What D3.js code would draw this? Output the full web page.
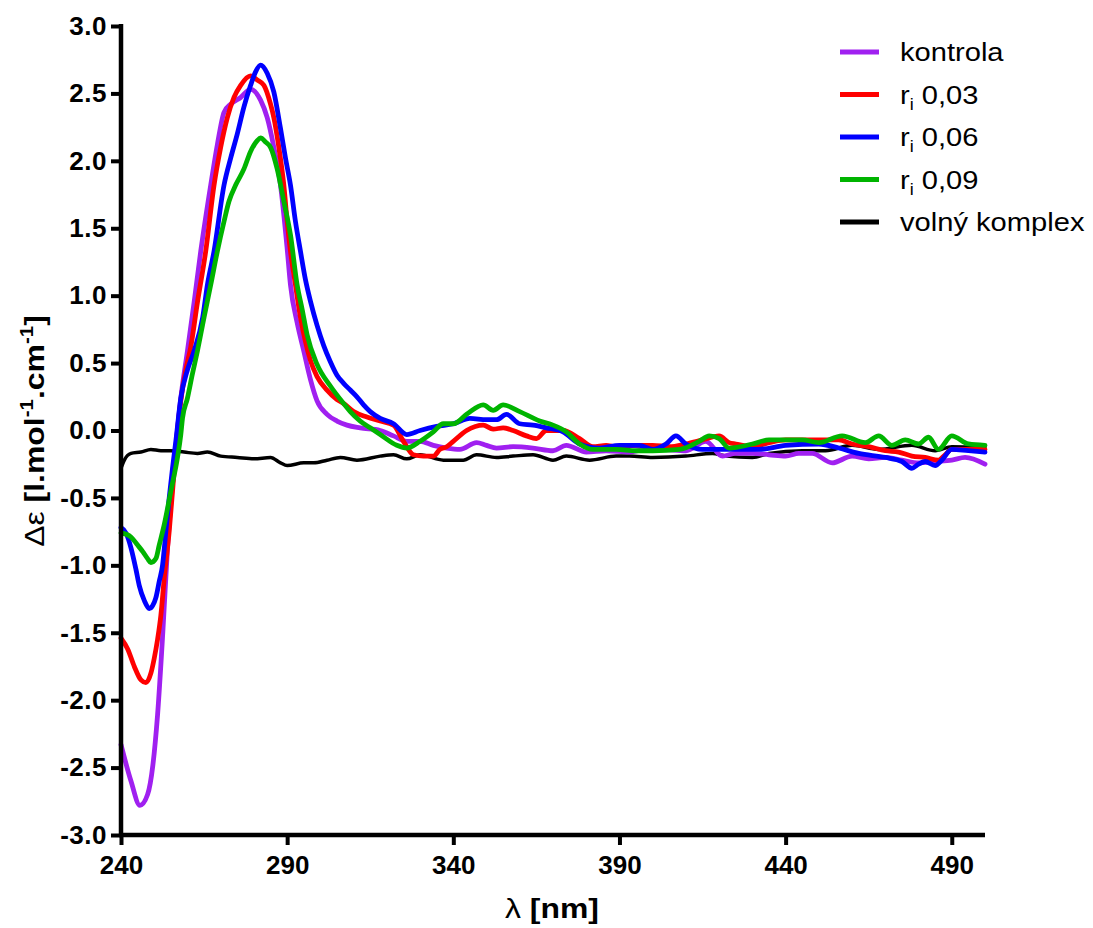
<!DOCTYPE html>
<meta charset="utf-8">
<script src="https://cdn.jsdelivr.net/npm/d3@7"></script>
<style>
body { margin: 0; background: #fff; }
text { font-family: "Liberation Sans", Arial, sans-serif; fill: #000; }
.tick text { font-size: 26px; font-weight: bold; }
path.line { fill: none; stroke-linejoin: round; stroke-linecap: round; }
</style>
<body>
<script>

// [wavelength nm, delta epsilon]
var kontrola = [[240,-2.33],[243,-2.6],[245.7,-2.78],[248,-2.7],[249.6,-2.48],[251,-2.11],[252.6,-1.49],[254,-0.87],[256,-0.26],[258,0.24],[260,0.59],[262,0.95],[264,1.33],[267,1.82],[269,2.12],[271,2.36],[273,2.42],[276,2.47],[279,2.53],[282,2.45],[284,2.32],[286,2.1],[288,1.82],[290,1.35],[291,1.08],[293,0.8],[295,0.59],[297,0.38],[299,0.22],[302,0.12],[305,0.07],[308,0.04],[312,0.02],[318,0.0],[322,-0.04],[326,-0.08],[330,-0.08],[334,-0.11],[338,-0.13],[342,-0.14],[347,-0.09],[350,-0.11],[353,-0.13],[358,-0.12],[364,-0.13],[370,-0.15],[374,-0.11],[380,-0.16],[386,-0.15],[393,-0.16],[398,-0.14],[402,-0.14],[410,-0.15],[416,-0.08],[421,-0.19],[425,-0.17],[430,-0.17],[435,-0.18],[440,-0.19],[444,-0.17],[448,-0.17],[454,-0.24],[460,-0.19],[465,-0.21],[470,-0.2],[475,-0.22],[480,-0.24],[485,-0.23],[490,-0.22],[494,-0.2],[500,-0.25]];

var ri003 = [[240,-1.54],[242,-1.62],[244,-1.75],[246,-1.85],[247.5,-1.87],[249,-1.8],[250,-1.69],[251,-1.55],[252,-1.37],[253,-1.1],[254.5,-0.75],[256,-0.3],[257,0.0],[258,0.22],[259.5,0.45],[261,0.62],[263,0.95],[265.5,1.33],[268,1.82],[270,2.1],[272,2.32],[274,2.47],[276,2.56],[279,2.63],[281,2.6],[283,2.56],[285,2.42],[286,2.32],[287.5,2.1],[289,1.82],[290,1.55],[291,1.33],[292.5,1.08],[294,0.84],[295.5,0.66],[297,0.52],[299,0.4],[302,0.3],[305,0.23],[307,0.2],[310,0.14],[314,0.1],[318,0.07],[322,0.04],[325,-0.08],[328,-0.18],[331,-0.19],[334,-0.19],[336,-0.14],[338,-0.12],[340,-0.08],[344,0.0],[349,0.04],[352,0.01],[355,0.02],[358,0.0],[362,-0.04],[365,-0.06],[368,0.0],[373,0.0],[378,-0.06],[382,-0.12],[386,-0.11],[389,-0.12],[395,-0.11],[400,-0.11],[405,-0.12],[410,-0.1],[415,-0.07],[420,-0.04],[423,-0.09],[425,-0.1],[430,-0.12],[435,-0.09],[440,-0.07],[448,-0.07],[456,-0.07],[460,-0.1],[465,-0.12],[470,-0.15],[474,-0.16],[478,-0.19],[482,-0.2],[486,-0.22],[488,-0.18],[490,-0.14],[495,-0.14],[500,-0.14]];

var ri006 = [[240,-0.72],[241.5,-0.76],[243,-0.87],[244.5,-1.03],[245.5,-1.15],[247,-1.26],[248.5,-1.32],[249.5,-1.3],[250.5,-1.24],[251.5,-1.12],[252.5,-1.0],[253.5,-0.75],[254.5,-0.5],[255.5,-0.28],[256.5,-0.08],[258,0.24],[260,0.45],[262,0.59],[264.6,0.84],[266,1.08],[268,1.33],[271,1.82],[273,2.02],[275,2.2],[277,2.4],[279,2.56],[280.5,2.66],[282,2.71],[284,2.65],[286,2.51],[288,2.24],[289.5,2.02],[291,1.82],[292.5,1.55],[294,1.33],[295.5,1.12],[297,0.96],[299,0.78],[301,0.63],[303,0.51],[305,0.41],[307,0.35],[309,0.3],[311,0.25],[313,0.19],[315,0.14],[318,0.09],[322,0.05],[326,-0.03],[330,0.0],[335,0.03],[340,0.05],[345,0.09],[350,0.08],[353,0.08],[356,0.12],[360,0.05],[364,0.04],[368,0.02],[373,-0.01],[378,-0.1],[384,-0.13],[390,-0.11],[396,-0.11],[400,-0.14],[404,-0.1],[407,-0.04],[410,-0.1],[415,-0.14],[425,-0.14],[432,-0.14],[440,-0.11],[450,-0.1],[456,-0.13],[462,-0.17],[470,-0.2],[475,-0.23],[478,-0.28],[480,-0.25],[482,-0.23],[485,-0.26],[487,-0.22],[490,-0.14],[495,-0.15],[500,-0.16]];

var ri009 = [[240,-0.76],[243,-0.79],[245,-0.85],[246.6,-0.9],[248,-0.95],[249,-0.98],[250.5,-0.95],[251.5,-0.85],[253,-0.7],[255,-0.45],[257,-0.2],[258,-0.03],[258.5,0.09],[260,0.24],[261.5,0.42],[263,0.59],[265,0.84],[267,1.08],[269,1.33],[271,1.55],[272.5,1.7],[274.5,1.82],[277,1.94],[279,2.07],[281,2.15],[282,2.17],[283.5,2.14],[285,2.1],[287,1.94],[289,1.7],[291,1.45],[293,1.08],[294.5,0.9],[296,0.71],[299,0.49],[303,0.33],[307,0.2],[309,0.14],[312,0.07],[315,0.02],[318,-0.03],[323,-0.11],[326,-0.13],[330,-0.08],[334,-0.01],[337,0.05],[340,0.05],[344,0.12],[349,0.19],[352,0.15],[355,0.19],[360,0.14],[366,0.07],[370,0.04],[374,-0.01],[378,-0.1],[382,-0.14],[389,-0.14],[395,-0.15],[400,-0.15],[408,-0.14],[414,-0.08],[417,-0.04],[420,-0.06],[423,-0.13],[430,-0.1],[435,-0.07],[445,-0.07],[450,-0.09],[457,-0.04],[464,-0.09],[468,-0.04],[472,-0.11],[476,-0.07],[480,-0.1],[483,-0.05],[486,-0.14],[490,-0.04],[495,-0.1],[500,-0.11]];

var volny = [[240,-0.28],[241,-0.22],[243,-0.17],[246,-0.16],[249,-0.14],[252,-0.15],[255,-0.15],[259,-0.16],[263,-0.17],[266,-0.16],[270,-0.19],[275,-0.2],[280,-0.21],[285,-0.2],[288,-0.24],[290,-0.26],[295,-0.24],[298,-0.24],[302,-0.22],[306,-0.2],[311,-0.22],[318,-0.19],[322,-0.18],[326,-0.21],[330,-0.18],[337,-0.22],[343,-0.22],[347,-0.18],[353,-0.2],[358,-0.19],[364,-0.18],[370,-0.22],[374,-0.19],[381,-0.22],[389,-0.19],[393,-0.19],[400,-0.2],[410,-0.19],[418,-0.17],[422,-0.19],[430,-0.2],[435,-0.17],[445,-0.15],[452,-0.15],[460,-0.11],[468,-0.14],[478,-0.11],[485,-0.15],[490,-0.12],[500,-0.13]];

var seriesNames = ["kontrola", "r_i 0,03", "r_i 0,06", "r_i 0,09", "volný komplex"];
var seriesColors = ["#a020f0", "#ff0000", "#0000ff", "#00b400", "#000000"];
var seriesData = [kontrola, ri003, ri006, ri009, volny];

var xTicks = [240, 290, 340, 390, 440, 490];
var yTicks = [-3.0, -2.5, -2.0, -1.5, -1.0, -0.5, 0.0, 0.5, 1.0, 1.5, 2.0, 2.5, 3.0];

(function() {
  var width = 1093, height = 928;
  var pLeft = 121, pRight = 985, pTop = 26, pBottom = 835;

  var svg = d3.select("body").append("svg")
      .attr("width", width)
      .attr("height", height);

  var x = d3.scaleLinear().domain([240, 500]).range([pLeft, pRight]);
  var y = d3.scaleLinear().domain([-3, 3]).range([pBottom, pTop]);

  var line = d3.line()
      .x(function(d) { return x(d[0]); })
      .y(function(d) { return y(d[1]); })
      .curve(d3.curveMonotoneX);

  // black first, then the coloured curves on top
  var order = [4, 0, 1, 2, 3];
  order.forEach(function(i) {
    svg.append("path")
        .attr("class", "line")
        .attr("d", line(seriesData[i]))
        .style("stroke", seriesColors[i])
        .style("stroke-width", i === 4 ? 3.5 : 4.8);
  });

  // axes
  var xAxis = svg.append("g")
      .attr("transform", "translate(0," + pBottom + ")")
      .call(d3.axisBottom(x).tickValues(xTicks).tickSize(10).tickPadding(10)
          .tickFormat(d3.format("d")));
  var yAxis = svg.append("g")
      .attr("transform", "translate(" + pLeft + ",0)")
      .call(d3.axisLeft(y).tickValues(yTicks).tickSize(10).tickPadding(4)
          .tickFormat(function(d) { return d3.format(".1f")(d).replace("−", "-"); }));

  [xAxis, yAxis].forEach(function(a) {
    a.select(".domain").remove();
    a.selectAll(".tick line").attr("stroke", "#000").attr("stroke-width", 4);
    a.selectAll(".tick text").attr("fill", "#000");
  });
  xAxis.selectAll(".tick text").attr("dy", "0.72em");
  yAxis.selectAll(".tick text").style("letter-spacing", "0.5px");

  // axis lines
  svg.append("line").attr("x1", pLeft).attr("x2", pLeft).attr("y1", pTop - 2).attr("y2", pBottom + 2)
      .attr("stroke", "#000").attr("stroke-width", 4.5);
  svg.append("line").attr("x1", pLeft - 2).attr("x2", pRight).attr("y1", pBottom).attr("y2", pBottom)
      .attr("stroke", "#000").attr("stroke-width", 4.5);

  // axis titles
  var xt = svg.append("text")
      .attr("transform", "translate(552,918) scale(1.14,1)")
      .attr("text-anchor", "middle")
      .style("font-size", "28px").style("font-weight", "bold");
  xt.append("tspan").style("font-weight", "normal").text("λ ");
  xt.append("tspan").text("[nm]");

  var yt = svg.append("text")
      .attr("transform", "translate(44,431) rotate(-90) scale(1.14,1)")
      .attr("text-anchor", "middle")
      .style("font-size", "28px").style("font-weight", "bold");
  yt.append("tspan").style("font-weight", "normal").text("Δε ");
  yt.append("tspan").text("[l.mol");
  yt.append("tspan").attr("dy", -11).style("font-size", "18px").text("-1");
  yt.append("tspan").attr("dy", 11).text(".cm");
  yt.append("tspan").attr("dy", -11).style("font-size", "18px").text("-1");
  yt.append("tspan").attr("dy", 11).text("]");

  // legend
  var legend = svg.append("g");
  seriesNames.forEach(function(name, i) {
    var ly = 52 + i * 42.5;
    legend.append("line")
        .attr("x1", 840).attr("x2", 879).attr("y1", ly).attr("y2", ly)
        .attr("stroke", seriesColors[i]).attr("stroke-width", 5);
    var t = legend.append("text")
        .attr("transform", "translate(900," + (ly + 9) + ") scale(1.12,1)")
        .style("font-size", "26px");
    if (name.indexOf("r_i") === 0) {
      t.append("tspan").text("r");
      t.append("tspan").attr("dy", 6).style("font-size", "16px").text("i");
      t.append("tspan").attr("dy", -6).text(" " + name.slice(4));
    } else {
      t.text(name);
    }
  });
})();

</script>
</body>
